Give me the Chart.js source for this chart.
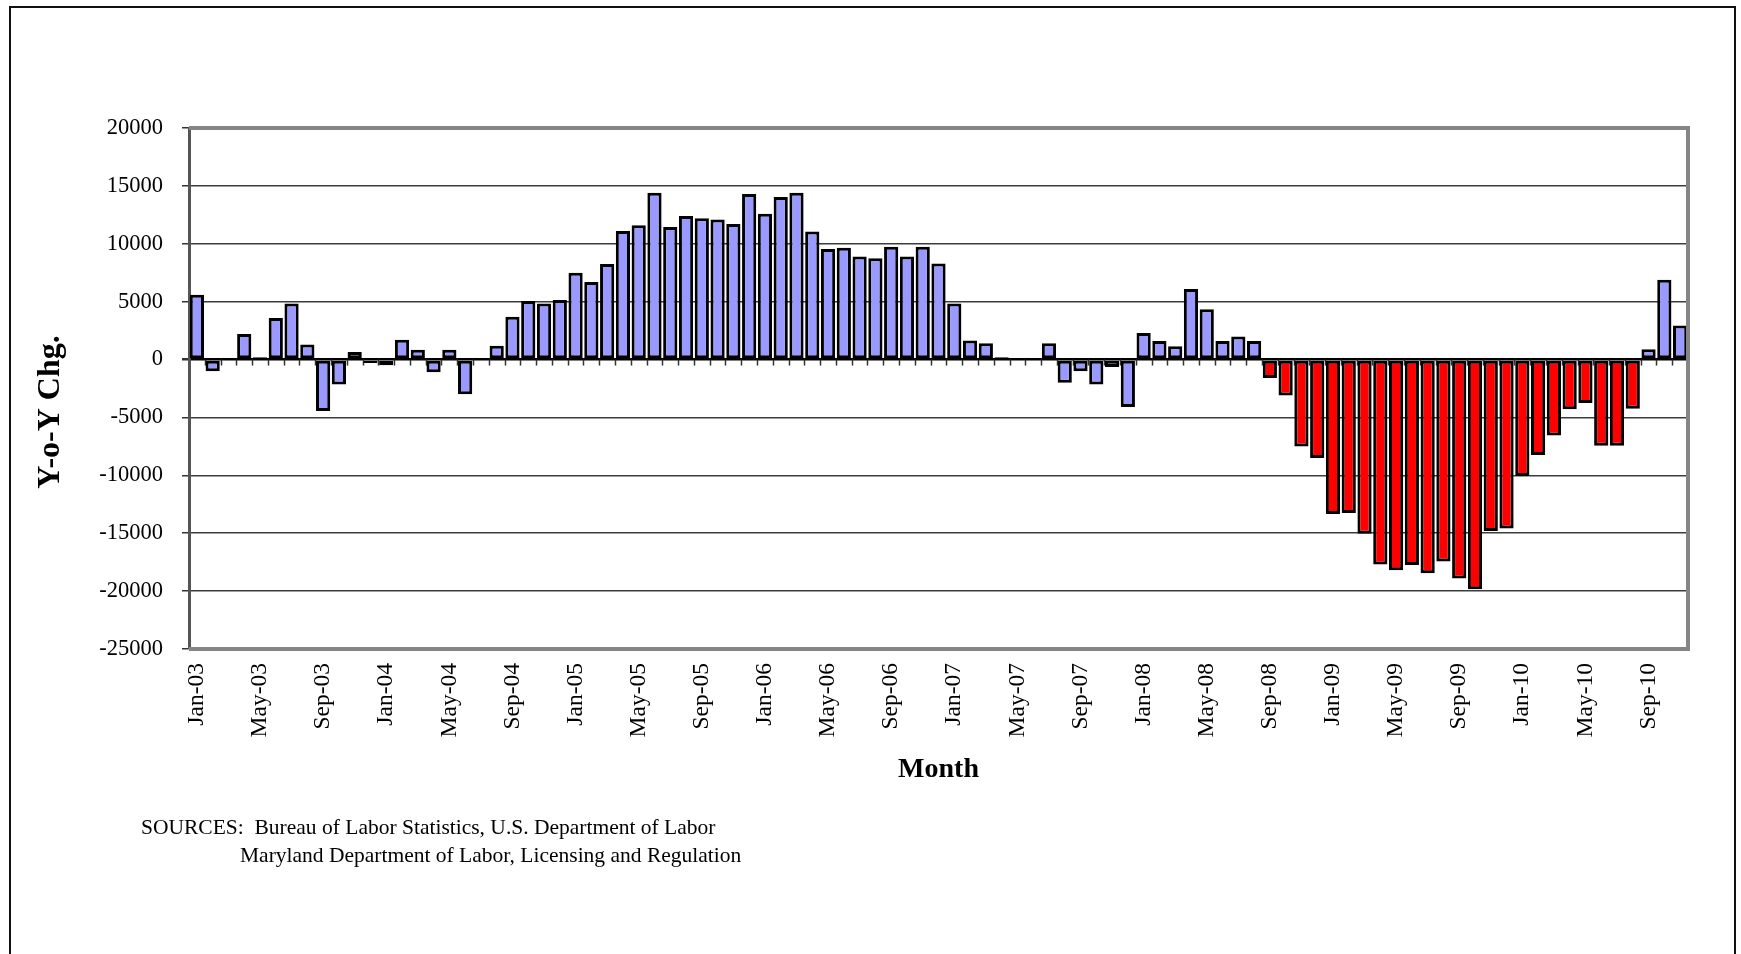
<!DOCTYPE html>
<html>
<head>
<meta charset="utf-8">
<script src="https://cdn.jsdelivr.net/npm/chart.js@4"></script>
<style>
  body { margin: 0; background: #fff; }
  #wrap { position: relative; width: 1741px; height: 954px; overflow: hidden; }
  #frame { position: absolute; left: 9px; top: 6px; width: 1727px; height: 960px; border: 2px solid #111; box-sizing: border-box; }
  canvas { position: absolute; left: 0; top: 0; }
  .src { position: absolute; font-family: "Liberation Serif", serif; font-size: 21.5px; color: #000; white-space: pre; }
</style>
</head>
<body>
<div id="wrap">
  <div id="frame"></div>
  <canvas id="chart" width="1741" height="954"></canvas>
  <div class="src" style="left:141px; top:815px;">SOURCES:  Bureau of Labor Statistics, U.S. Department of Labor</div>
  <div class="src" style="left:240px; top:843px;">Maryland Department of Labor, Licensing and Regulation</div>
</div>
<script>
// Month categories, Jan-03 .. Nov-10
const categories = [
  'Jan-03','Feb-03','Mar-03','Apr-03','May-03','Jun-03','Jul-03','Aug-03','Sep-03','Oct-03','Nov-03','Dec-03',
  'Jan-04','Feb-04','Mar-04','Apr-04','May-04','Jun-04','Jul-04','Aug-04','Sep-04','Oct-04','Nov-04','Dec-04',
  'Jan-05','Feb-05','Mar-05','Apr-05','May-05','Jun-05','Jul-05','Aug-05','Sep-05','Oct-05','Nov-05','Dec-05',
  'Jan-06','Feb-06','Mar-06','Apr-06','May-06','Jun-06','Jul-06','Aug-06','Sep-06','Oct-06','Nov-06','Dec-06',
  'Jan-07','Feb-07','Mar-07','Apr-07','May-07','Jun-07','Jul-07','Aug-07','Sep-07','Oct-07','Nov-07','Dec-07',
  'Jan-08','Feb-08','Mar-08','Apr-08','May-08','Jun-08','Jul-08','Aug-08','Sep-08','Oct-08','Nov-08','Dec-08',
  'Jan-09','Feb-09','Mar-09','Apr-09','May-09','Jun-09','Jul-09','Aug-09','Sep-09','Oct-09','Nov-09','Dec-09',
  'Jan-10','Feb-10','Mar-10','Apr-10','May-10','Jun-10','Jul-10','Aug-10','Sep-10','Oct-10','Nov-10'
];

// Y-o-Y change, one array per year
const chg2003 = [5600, -1000, 100, 2200, 200, 3600, 4850, 1300, -4450, -2150, 650, -300];
const chg2004 = [-500, 1700, 850, -1100, 850, -3000, -100, 1200, 3700, 5050, 4850, 5150];
const chg2005 = [7500, 6700, 8250, 11100, 11600, 14400, 11450, 12400, 12200, 12100, 11700, 14300];
const chg2006 = [12600, 14050, 14400, 11050, 9550, 9650, 8900, 8750, 9750, 8900, 9750, 8300];
const chg2007 = [4850, 1650, 1400, 200, 100, -100, 1400, -2000, -1000, -2150, -650, -4100];
const chg2008 = [2300, 1600, 1150, 6100, 4350, 1600, 2000, 1600, -1600, -3100, -7500, -8500];
const chg2009 = [-13350, -13250, -15050, -17700, -18200, -17750, -18450, -17450, -18900, -19850, -14800, -14600];
const chg2010 = [-10050, -8250, -6550, -4300, -3750, -7450, -7450, -4250, 900, 6900, 2950];

const yoyChange = [].concat(chg2003, chg2004, chg2005, chg2006, chg2007, chg2008, chg2009, chg2010);

// axis range
const yMin = -25000;
const yMax = 20000;
const yStep = 5000;

// months drawn in red
const redFrom = 'Sep-08';
const redTo = 'Aug-10';

const blue = '#9999FF';
const red = '#FF0000';
const serif = '"Liberation Serif", "Times New Roman", serif';

const iFrom = categories.indexOf(redFrom);
const iTo = categories.indexOf(redTo);
const barColors = categories.map((c, i) => (i >= iFrom && i <= iTo) ? red : blue);

// plot frame, zero axis tick marks, y title
const framePlugin = {
    id: 'frame',
    beforeDatasetsDraw(chart) {
        const ctx = chart.ctx;
        const x = chart.scales.x;
        const y = chart.scales.y;
        const y0 = y.getPixelForValue(0);
        const half = (x.getPixelForValue(1) - x.getPixelForValue(0)) / 2;
        ctx.save();
        ctx.strokeStyle = '#333';
        ctx.lineWidth = 1.5;
        for (let i = 1; i < categories.length; i++) {
            const px = Math.round(x.getPixelForValue(i) - half) + 0.5;
            ctx.beginPath();
            ctx.moveTo(px, y0);
            ctx.lineTo(px, y0 + 6);
            ctx.stroke();
        }
        ctx.restore();
    },
    afterDraw(chart) {
        const ctx = chart.ctx;
        const a = chart.chartArea;
        ctx.save();
        ctx.strokeStyle = '#858585';
        ctx.lineWidth = 4;
        ctx.beginPath();
        ctx.moveTo(a.left, a.top);
        ctx.lineTo(a.right, a.top);
        ctx.lineTo(a.right, a.bottom);
        ctx.lineTo(a.left, a.bottom);
        ctx.stroke();

        ctx.translate(51, 412);
        ctx.rotate(-Math.PI / 2);
        ctx.fillStyle = '#000';
        ctx.font = 'bold 32px ' + serif;
        ctx.textAlign = 'center';
        ctx.textBaseline = 'middle';
        ctx.fillText('Y-o-Y Chg.', 0, 0);
        ctx.restore();
    }
};

const ctx = document.getElementById('chart').getContext('2d');
const chgChart = new Chart(ctx, {
    type: 'bar',
    data: {
        labels: categories,
        datasets: [{
            label: 'Y-o-Y Chg.',
            data: yoyChange,
            backgroundColor: barColors,
            borderColor: '#000',
            borderWidth: 3,
            borderSkipped: false,
            barPercentage: 0.9,
            categoryPercentage: 1.0
        }]
    },
    options: {
        responsive: false,
        animation: false,
        layout: { padding: { top: 128, right: 53, left: 0, bottom: 0 } },
        plugins: {
            legend: { display: false },
            tooltip: { enabled: false }
        },
        scales: {
            x: {
                offset: true,
                grid: { display: false, drawTicks: false },
                border: { display: false },
                ticks: {
                    autoSkip: false,
                    minRotation: 90,
                    maxRotation: 90,
                    padding: 14,
                    color: '#000',
                    font: { family: serif, size: 23.5 },
                    callback: (val, i) => (i % 4 === 0 ? categories[i] : '')
                },
                title: {
                    display: true,
                    text: 'Month',
                    color: '#000',
                    font: { family: serif, size: 28, weight: 'bold' },
                    padding: { top: 0, bottom: 167 }
                },
                afterFit: (scale) => { scale.height = 305; }
            },
            y: {
                min: yMin,
                max: yMax,
                ticks: {
                    stepSize: yStep,
                    padding: 19,
                    color: '#000',
                    font: { family: serif, size: 22.5 },
                    callback: (val) => String(val)
                },
                grid: {
                    color: (c) => (c.tick && c.tick.value === 0 ? '#000' : '#3c3c3c'),
                    lineWidth: (c) => (c.tick && c.tick.value === 0 ? 2.5 : 1.5),
                    tickColor: '#333',
                    tickLength: 7
                },
                border: { display: true, color: '#555', width: 3 },
                afterFit: (scale) => { scale.width = 189; }
            }
        }
    },
    plugins: [framePlugin]
});
</script>
</body>
</html>
